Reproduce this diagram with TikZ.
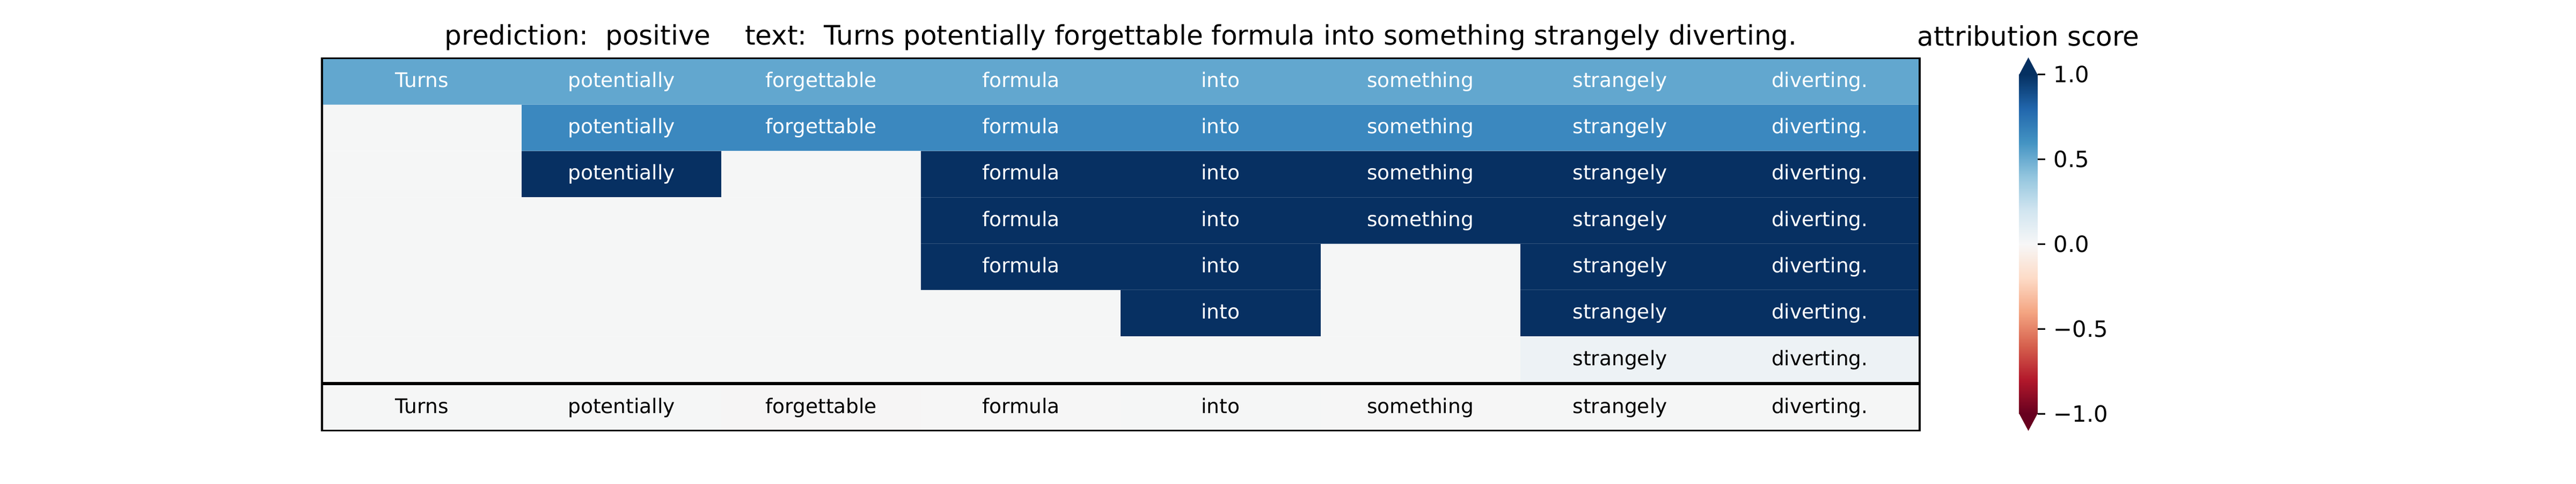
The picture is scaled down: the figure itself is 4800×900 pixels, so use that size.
\documentclass[tikz,border=0pt]{standalone}
\usepackage{fontspec}
\setmainfont{DejaVu Sans}
\definecolor{rb0}{HTML}{67001F}
\definecolor{rb1}{HTML}{B2182B}
\definecolor{rb2}{HTML}{D6604D}
\definecolor{rb3}{HTML}{F4A582}
\definecolor{rb4}{HTML}{FDDBC7}
\definecolor{rb5}{HTML}{F7F7F7}
\definecolor{rb6}{HTML}{D1E5F0}
\definecolor{rb7}{HTML}{92C5DE}
\definecolor{rb8}{HTML}{4393C3}
\definecolor{rb9}{HTML}{2166AC}
\definecolor{rb10}{HTML}{053061}
\definecolor{vA}{HTML}{62A7CF}
\definecolor{vB}{HTML}{3B88BF}
\definecolor{vD}{HTML}{073062}
\definecolor{vL}{HTML}{EDF2F5}
\definecolor{bgc}{HTML}{F5F6F6}
\definecolor{bw1}{HTML}{F6F6F6}
\definecolor{bw2}{HTML}{F6F5F5}
\pgfdeclareverticalshading{rdbu}{100bp}{color(0bp)=(rb0); color(25bp)=(rb0); color(30bp)=(rb1); color(35bp)=(rb2); color(40bp)=(rb3); color(45bp)=(rb4); color(50bp)=(rb5); color(55bp)=(rb6); color(60bp)=(rb7); color(65bp)=(rb8); color(70bp)=(rb9); color(75bp)=(rb10); color(100bp)=(rb10)}
\newcommand\mycell[5]{\node[cell, fill=#3, text=#4] (c#1-#2) at ({600+(#2+0.5)*372.1},{108.3+(#1+0.5)*86.31}) {#5};}
\newcommand\mybot[3]{\node[cell, minimum height=20.64pt, fill=#2, text=black] (b-#1) at ({600+(#1+0.5)*372.1},758.5) {#3};}
\begin{document}
\begin{tikzpicture}[x=0.24pt,y=-0.24pt,
  cell/.style={inner sep=0pt, outer sep=0pt, minimum width=89.31pt, minimum height=20.72pt,
    text height=7.2pt, text depth=2pt, font=\fontsize{9}{11}\selectfont, draw=none},
  frame/.style={draw=black, line width=0.8pt},
  ttl/.style={font=\fontsize{12}{14}\selectfont, anchor=base, inner sep=0pt},
  ticklab/.style={font=\fontsize{10}{12}\selectfont, anchor=base west, inner sep=0pt},
  tickmark/.style={line width=0.8pt, black}]
\useasboundingbox (0,0) rectangle (4800,900);
\fill[white] (0,0) rectangle (4800,900);
% titles
\node[ttl] (title) at (2088.5,83.3) {prediction:~~positive~~~~text:~~Turns potentially forgettable formula into something strangely diverting.};
\node[ttl] (cbtitle) at (3779.5,85) {attribution score};
% top heatmap background
\fill[bgc] (600,108.3) rectangle (3577,712.5);
% row 0
\mycell{0}{0}{vA}{white}{Turns}
\mycell{0}{1}{vA}{white}{potentially}
\mycell{0}{2}{vA}{white}{forgettable}
\mycell{0}{3}{vA}{white}{formula}
\mycell{0}{4}{vA}{white}{into}
\mycell{0}{5}{vA}{white}{something}
\mycell{0}{6}{vA}{white}{strangely}
\mycell{0}{7}{vA}{white}{diverting.}
% row 1
\mycell{1}{1}{vB}{white}{potentially}
\mycell{1}{2}{vB}{white}{forgettable}
\mycell{1}{3}{vB}{white}{formula}
\mycell{1}{4}{vB}{white}{into}
\mycell{1}{5}{vB}{white}{something}
\mycell{1}{6}{vB}{white}{strangely}
\mycell{1}{7}{vB}{white}{diverting.}
% row 2
\mycell{2}{1}{vD}{white}{potentially}
\mycell{2}{3}{vD}{white}{formula}
\mycell{2}{4}{vD}{white}{into}
\mycell{2}{5}{vD}{white}{something}
\mycell{2}{6}{vD}{white}{strangely}
\mycell{2}{7}{vD}{white}{diverting.}
% row 3
\mycell{3}{3}{vD}{white}{formula}
\mycell{3}{4}{vD}{white}{into}
\mycell{3}{5}{vD}{white}{something}
\mycell{3}{6}{vD}{white}{strangely}
\mycell{3}{7}{vD}{white}{diverting.}
% row 4
\mycell{4}{3}{vD}{white}{formula}
\mycell{4}{4}{vD}{white}{into}
\mycell{4}{6}{vD}{white}{strangely}
\mycell{4}{7}{vD}{white}{diverting.}
% row 5
\mycell{5}{4}{vD}{white}{into}
\mycell{5}{6}{vD}{white}{strangely}
\mycell{5}{7}{vD}{white}{diverting.}
% row 6
\mycell{6}{6}{vL}{black}{strangely}
\mycell{6}{7}{vL}{black}{diverting.}
% faint row edges
\foreach \r in {1,...,6}
  \draw[white, opacity=0.18, line width=0.3pt] (600,{108.3+\r*86.31}) -- (3577,{108.3+\r*86.31});
% bottom row
\mybot{0}{bgc}{Turns}
\mybot{1}{bgc}{potentially}
\mybot{2}{bw2}{forgettable}
\mybot{3}{bw1}{formula}
\mybot{4}{bgc}{into}
\mybot{5}{bw1}{something}
\mybot{6}{bgc}{strangely}
\mybot{7}{bgc}{diverting.}
% frames
\draw[frame] (600,108.3) rectangle (3577,712.5);
\draw[frame] (600,715.5) rectangle (3577,801.5);
% colorbar
\path[shading=rdbu] (3762.3,138.6) rectangle (3796.7,770.4);
\fill[rb10] (3762.3,139.2) -- (3779.5,107) -- (3796.7,139.2) -- cycle;
\fill[rb0] (3762.3,769.8) -- (3779.5,802) -- (3796.7,769.8) -- cycle;
\foreach \t/\yy in {p10/138.6, p05/296.6, z00/454.5, m05/612.5, m10/770.4}
  \draw[tickmark] (3796.7,\yy) -- (3811.3,\yy);
\node[ticklab] (t1) at (3826,153.6) {1.0};
\node[ticklab] (t2) at (3826,311.6) {0.5};
\node[ticklab] (t3) at (3826,469.5) {0.0};
\node[ticklab] (t4) at (3826,627.5) {−0.5};
\node[ticklab] (t5) at (3826,785.4) {−1.0};
\end{tikzpicture}
\end{document}
